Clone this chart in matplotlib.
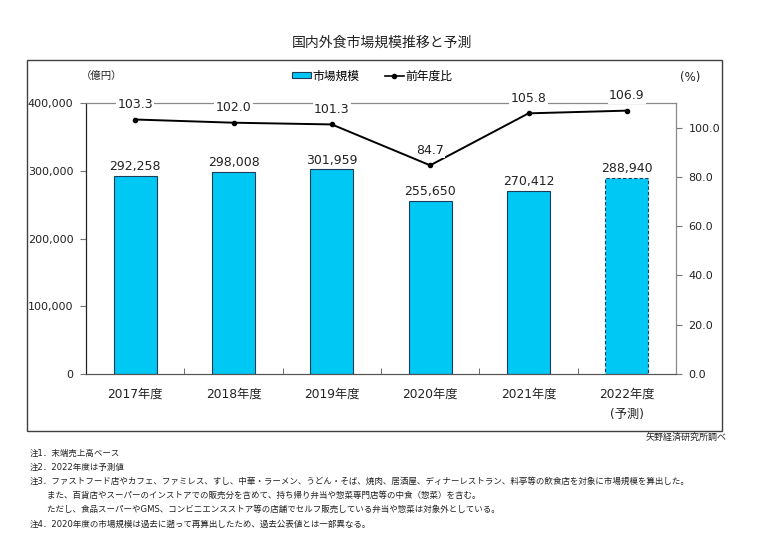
import matplotlib
matplotlib.use("Agg")
import matplotlib.pyplot as plt
from matplotlib.patches import Patch, Rectangle
from matplotlib.lines import Line2D

plt.rcParams['font.family'] = ['DejaVu Sans', 'Noto Sans CJK JP']

categories = ['2017年度', '2018年度', '2019年度', '2020年度', '2021年度', '2022年度\n(予測)']
market_size = [292258, 298008, 301959, 255650, 270412, 288940]
yoy = [103.3, 102.0, 101.3, 84.7, 105.8, 106.9]
left_ticks = [0, 100000, 200000, 300000, 400000]
right_ticks = [0, 20, 40, 60, 80, 100]
notes = [
    '注1．末端売上高ベース',
    '注2．2022年度は予測値',
    '注3．ファストフード店やカフェ、ファミレス、すし、中華・ラーメン、うどん・そば、焼肉、居酒屋、ディナーレストラン、料亭等の飲食店を対象に市場規模を算出した。',
    '　　また、百貨店やスーパーのインストアでの販売分を含めて、持ち帰り弁当や惣菜専門店等の中食（惣菜）を含む。',
    '　　ただし、食品スーパーやGMS、コンビニエンスストア等の店舗でセルフ販売している弁当や惣菜は対象外としている。',
    '注4．2020年度の市場規模は過去に遡って再算出したため、過去公表値とは一部異なる。',
]

W, H = 763, 544
fig = plt.figure(figsize=(W / 100, H / 100), dpi=100)

def fx(px):
    return px / W

def fy(py):
    return 1 - py / H

# outer frame
fig.patches.append(Rectangle((fx(27), fy(431)), fx(722) - fx(27), fy(60) - fy(431),
                             transform=fig.transFigure, fill=False, edgecolor='#404040', lw=1.0))

ax = fig.add_axes([fx(86), fy(374), fx(676) - fx(86), fy(103) - fy(374)])
ax2 = ax.twinx()

bar_color = '#00C8F5'
edge = '#1F3B5A'
x = list(range(len(categories)))
bars = ax.bar(x, market_size, width=0.44, color=bar_color, edgecolor=edge, linewidth=0.8, zorder=2)
bars[-1].set_linestyle((0, (3, 2)))
ax.set_xlim(-0.5, len(categories) - 0.5)
ax.set_ylim(0, 400000)
ax.set_yticks(left_ticks)
ax.set_yticklabels([f'{v:,}' for v in left_ticks], fontsize=8, color='#222222')
ax.set_xticks(x)
ax.set_xticklabels(categories, fontsize=8.8, color='#222222', linespacing=1.75)
ax.set_xticks([i + 0.5 for i in x[:-1]], minor=True)
ax.tick_params(axis='x', which='major', length=0, pad=10)
ax.tick_params(axis='x', which='minor', length=4, direction='in', color='#555555')
ax.tick_params(axis='y', length=4, direction='out', color='#777777', pad=5)

for i, v in enumerate(market_size):
    ax.annotate(f'{v:,}', (i, v), xytext=(0, 2), textcoords='offset points',
                ha='center', va='bottom', fontsize=9, color='#222222')

ax2.plot(x, yoy, color='black', lw=1.4, marker='o', markersize=3, zorder=3)
ax2.set_ylim(0, 110)
ax2.set_yticks(right_ticks)
ax2.set_yticklabels([f'{v:.1f}' for v in right_ticks], fontsize=8, color='#222222')
ax2.tick_params(axis='y', length=4, direction='out', color='#777777', pad=5)
for i, v in enumerate(yoy):
    ax2.annotate(f'{v:.1f}', (i, v), xytext=(0, 6), textcoords='offset points',
                 ha='center', va='bottom', fontsize=9, color='#222222',
                 bbox=dict(boxstyle='square,pad=0.1', fc='white', ec='none'), zorder=5)

for a in (ax, ax2):
    a.spines['top'].set_color('#888888')
    a.spines['right'].set_color('#888888')
    a.spines['left'].set_color('#222222')
    a.spines['bottom'].set_color('#555555')
    a.set_facecolor('none')
ax.set_zorder(1)
ax2.set_zorder(2)

# title
fig.text(0.5, fy(43), '国内外食市場規模推移と予測', ha='center', va='center',
         fontsize=10, color='#222222')
fig.text(fx(102), fy(76), '（億円）', ha='center', va='center', fontsize=7.5, color='#222222')
fig.text(fx(690), fy(78), '(%)', ha='center', va='center', fontsize=8.5, color='#222222')

handles = [Patch(facecolor=bar_color, edgecolor=edge, lw=0.8),
           Line2D([0], [0], color='black', lw=1.2, marker='o', markersize=3)]
fig.legend(handles, ['市場規模', '前年度比'], loc='center', bbox_to_anchor=(fx(372), fy(76)),
           ncol=2, frameon=False, fontsize=8.5, handlelength=1.6, handleheight=0.45,
           handletextpad=0.1, columnspacing=2.2)

fig.text(fx(727), fy(437), '矢野経済研究所調べ', ha='right', va='center', fontsize=6.5, color='#222222')

ys = [453, 467, 481, 495, 509, 524]
for t, yy in zip(notes, ys):
    fig.text(fx(30), fy(yy), t, ha='left', va='center', fontsize=6.1, color='#222222')

fig.savefig('out.png', dpi=100)
